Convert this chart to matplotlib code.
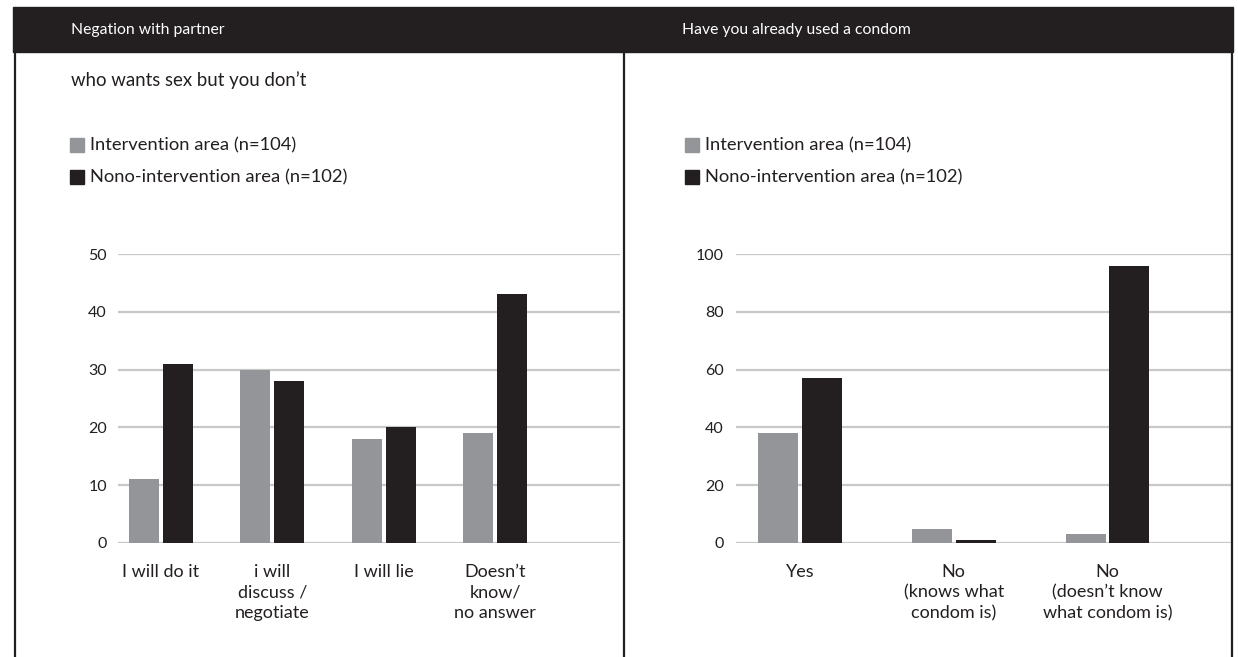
import matplotlib
matplotlib.use("Agg")
import matplotlib.pyplot as plt
from matplotlib.patches import Rectangle
from matplotlib.lines import Line2D

plt.rcParams['font.family'] = ['Lato', 'DejaVu Sans']

# left panel: negotiation with partner
neg_labels = ["I will do it", "i will\ndiscuss /\nnegotiate", "I will lie", "Doesn\u2019t\nknow/\nno answer"]
neg_interv = [11, 30, 18, 19]
neg_nonint = [31, 28, 20, 43]

# right panel: condom use
con_labels = ["Yes", "No\n(knows what\ncondom is)", "No\n(doesn\u2019t know\nwhat condom is)"]
con_interv = [38, 5, 3]
con_nonint = [57, 1, 96]

series_names = ["Intervention area (n=104)", "Nono-intervention area (n=102)"]
GRAY = "#939598"
DARK = "#231f20"
GRID = "#c8c8c8"

W, H = 1238, 657
fig = plt.figure(figsize=(W / 100, H / 100), dpi=100)


def px(x0, y0, x1, y1):
    # pixel box (top-left origin) -> figure fraction rect
    return [x0 / W, 1 - y1 / H, (x1 - x0) / W, (y1 - y0) / H]


# header bar and frame lines
fig.patches.append(Rectangle((13 / W, 1 - 52 / H), (1233 - 13) / W, 45 / H,
                             transform=fig.transFigure, color=DARK, zorder=0))
for xp in (15, 624, 1232):
    fig.lines.append(Line2D([xp / W, xp / W], [0, 1 - 52 / H], transform=fig.transFigure,
                            color=DARK, lw=1.6))

fig.text(71 / W, 1 - 30 / H, "Negation with partner", color="white", fontsize=11.3, va="center")
fig.text(682 / W, 1 - 30 / H, "Have you already used a condom", color="white", fontsize=11.3, va="center")
fig.text(71 / W, 1 - 80 / H, "who wants sex but you don\u2019t", color=DARK, fontsize=13.4, va="center")

# legends
for x0 in (70, 685):
    for i, (name, col) in enumerate(zip(series_names, [GRAY, DARK])):
        yc = 145 + 32 * i
        fig.patches.append(Rectangle((x0 / W, 1 - (yc + 7) / H), 14 / W, 14 / H,
                                     transform=fig.transFigure, color=col))
        fig.text((x0 + 20) / W, 1 - yc / H, name, color=DARK, fontsize=13.2, va="center")


def panel(rect, labels, a, b, ymax, step, xlim, bw, off, pad):
    ax = fig.add_axes(rect)
    xs = range(len(labels))
    ax.bar([x - off for x in xs], a, bw, color=GRAY, zorder=2)
    ax.bar([x + off for x in xs], b, bw, color=DARK, zorder=2)
    ax.set_ylim(0, ymax)
    ax.set_xlim(*xlim)
    ax.set_yticks(range(0, ymax + 1, step))
    ax.yaxis.grid(True, color=GRID, lw=1.6, zorder=0)
    ax.set_axisbelow(True)
    for s in ax.spines.values():
        s.set_visible(False)
    ax.set_xticks(list(xs))
    ax.set_xticklabels(labels, fontsize=13, color=DARK, linespacing=1.35)
    ax.tick_params(axis="x", length=0, pad=15)
    ax.tick_params(axis="y", length=0, pad=pad, labelsize=11.5, labelcolor=DARK)
    return ax


panel(px(118, 254, 620, 543), neg_labels, neg_interv, neg_nonint, 50, 10,
      (-0.386, 4.12), 0.27, 0.153, 8)
panel(px(736, 254, 1232, 543), con_labels, con_interv, con_nonint, 100, 20,
      (-0.417, 2.81), 0.26, 0.143, 9)

fig.savefig("out.png", dpi=100)
